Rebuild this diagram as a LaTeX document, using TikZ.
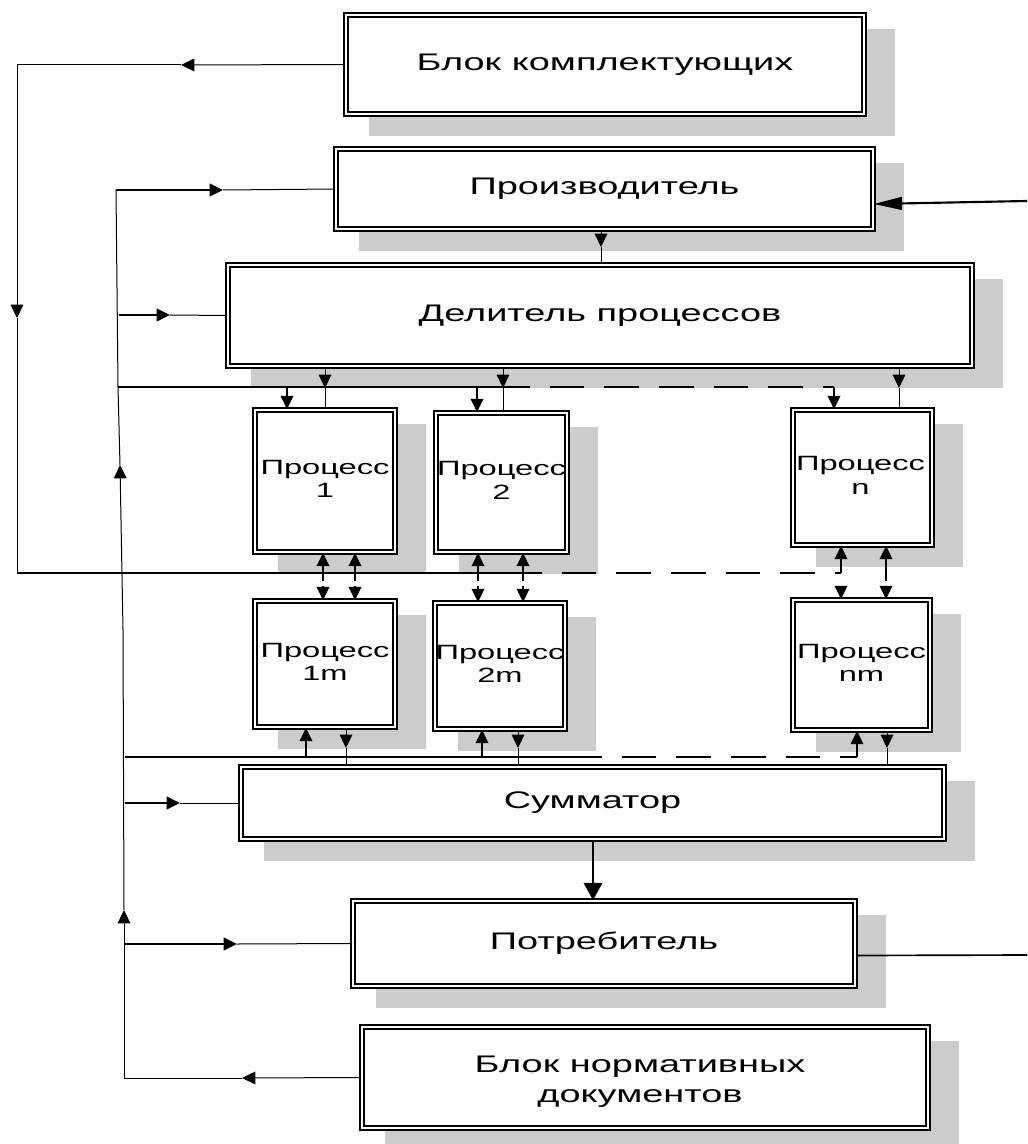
\documentclass[tikz,border=0pt]{standalone}
\usepackage{fontspec}
\setmainfont{Liberation Sans}[FakeStretch=1.58]
\usetikzlibrary{arrows.meta,fit,calc}
\pgfdeclarelayer{bg}
\pgfsetlayers{bg,main}
\begin{document}
\begin{tikzpicture}[x=0.75pt,y=-0.75pt,
  box/.style={draw, line width=1.3pt, double, double distance=1.7pt, fill=white, inner sep=0pt},
  big/.style={font=\fontsize{18}{22.5}\selectfont, align=center, inner sep=0pt},
  small/.style={font=\fontsize{15.5}{17.5}\selectfont, align=center, inner sep=0pt},
  shd/.style={fill=black!20},
  ln/.style={line width=0.75pt},
  md/.style={line width=1.25pt},
  thk/.style={line width=1.6pt},
  tri/.style={-{Triangle[length=10pt,width=9.5pt]}},
  longtri/.style={-{Triangle[length=21pt,width=9.5pt]}},
  bigtri/.style={-{Triangle[length=13pt,width=14pt]}},
  dsh/.style={dash pattern=on 26pt off 15pt}
]
\useasboundingbox (0,0) rectangle (1027,1144);

% boxes
\node[box, fit={(346,15) (864,114)}] (bk) {};
\node[box, fit={(336,149) (873,229)}] (pr) {};
\node[box, fit={(228,265) (972,366)}] (dl) {};
\node[box, fit={(255,410) (395,552)}] (p1) {};
\node[box, fit={(436,413) (567,552)}] (p2) {};
\node[box, fit={(793,410) (932,545)}] (pn) {};
\node[box, fit={(255,601) (395,727)}] (p1m) {};
\node[box, fit={(435,603) (565,729)}] (p2m) {};
\node[box, fit={(793,600) (930,730)}] (pnm) {};
\node[box, fit={(241,767) (944,839)}] (sm) {};
\node[box, fit={(353,901) (855,986)}] (pt) {};
\node[box, fit={(362,1027) (928,1128)}] (bn) {};

% texts
\node[big] (bkt) at (bk) {Блок комплектующих};
\node[big] (prt) at (pr) {Производитель};
\node[big] (dlt) at (dl) {Делитель процессов};
\node[small] (p1t) at ($(p1)+(0,-2)$) {Процесс\\1};
\node[small] (p2t) at ($(p2)+(0,-2)$) {Процесс\\2};
\node[small] (pnt) at ($(pn)+(-2,-2)$) {Процесс\\n};
\node[small] (p1mt) at ($(p1m)+(0,-2)$) {Процесс\\1m};
\node[small] (p2mt) at ($(p2m)+(0,-2)$) {Процесс\\2m};
\node[small] (pnmt) at ($(pnm)+(0,-2)$) {Процесс\\nm};
\node[big] (smt) at (sm) {Сумматор};
\node[big] (ptt) at (pt) {Потребитель};
\node[big] (bnt) at ($(bn)+(-5,4)$) {Блок нормативных\\документов};

% shadows
\begin{pgfonlayer}{bg}
\foreach \n in {bk,pr,dl,p1,p2,pn,p1m,p2m,pnm,sm,pt,bn}
  \fill[shd] ($(\n.north west)+(24,15)$) rectangle ($(\n.south east)+(30,21)$);
\end{pgfonlayer}

% named junctions
\coordinate (a1) at (181,65);
\coordinate (a2) at (17,65);
\coordinate (a3) at (17,318);
\coordinate (a4) at (17,573);
\coordinate (a5) at (507,573);
\coordinate (a6) at (841,573);

\coordinate (t0) at (242,1078);
\coordinate (t1) at (124,1078);
\coordinate (t2) at (124,910);
\coordinate (t3) at (123,630);
\coordinate (t4) at (120,465);
\coordinate (t5) at (118,387);
\coordinate (t6) at (116,190);

% feedback from "Блок комплектующих"
\draw[ln, tri] (bk.west) -- (a1);
\draw[ln, tri] (a1) -- (a2) -- (a3);
\draw[ln] (a3) -- (a4);
\draw[md] (a4) -- (a5);
\draw[md, dsh] (a5) -- (a6);
\draw[md, tri] (a6) -- (841,0 |- pn.south);

% trunk from "Блок нормативных документов"
\draw[ln, tri] (bn.west) -- (t0);
\draw[ln, tri] (t0) -- (t1) -- (t2);
\draw[ln, tri] (t2) -- (t3) -- (t4);
\draw[ln] (t4) -- (t5) -- (t6);
\draw[md, tri] (t6) -- (223,190);
\draw[ln] (223,190) -- (pr.west);
\draw[md, tri] (119,315) -- (170,315);
\draw[ln] (170,315) -- (dl.west);
\draw[thk] (t5) -- (495,387);
\draw[thk, dsh] (495,387) -- (834,387);
\draw[md, tri] (834,387) -- (834,0 |- pn.north);
\draw[md, tri] (287,387) -- (287,0 |- p1.north);
\draw[md, tri] (477,387) -- (477,0 |- p2.north);
\draw[thk] (125,757) -- (567,757);
\draw[thk, dsh] (567,757) -- (857,757);
\draw[md, tri] (857,757) -- (857,0 |- pnm.south);
\draw[md, tri] (306,757) -- (306,0 |- p1m.south);
\draw[md, tri] (482,757) -- (482,0 |- p2m.south);
\draw[md, tri] (125,803) -- (180,803);
\draw[ln] (180,803) -- (sm.west);
\draw[md, tri] (124,944) -- (237,944);
\draw[ln] (237,944) -- (pt.west);

% Производитель -> Делитель
\draw[ln, tri] (601,0 |- pr.south) -- (601,247);
\draw[ln] (601,247) -- (601,0 |- dl.north);

% Делитель -> processes
\foreach \x/\p in {325/p1, 503/p2, 899/pn}{
  \draw[ln, tri] (\x,0 |- dl.south) -- (\x,388);
  \draw[ln] (\x,388) -- (\x,0 |- \p.north);
}

% processes <-> processes m
\foreach \x/\p/\q in {323/p1/p1m, 355/p1/p1m, 478/p2/p2m, 523/p2/p2m, 886/pn/pnm}{
  \draw[md, tri] (\x,581) -- (\x,0 |- \p.south);
  \draw[md, tri] (\x,586) -- (\x,0 |- \q.north);
}
\draw[md, tri] (841,586) -- (841,0 |- pnm.north);

% processes m -> Сумматор
\foreach \x/\p in {346/p1m, 518/p2m, 887/pnm}{
  \draw[ln, tri] (\x,0 |- \p.south) -- (\x,748);
  \draw[ln] (\x,748) -- (\x,0 |- sm.north);
}

% Сумматор -> Потребитель
\draw[thk, bigtri] (593,0 |- sm.south) -- (593,0 |- pt.north);

% outside links
\coordinate (rin) at (1027,201);
\coordinate (rout) at (1027,955);
\draw[thk, longtri] (rin) -- ($(pr.east)+(0,15)$);
\draw[md] ($(pt.east)+(0,12)$) -- (rout);
\end{tikzpicture}
\end{document}
